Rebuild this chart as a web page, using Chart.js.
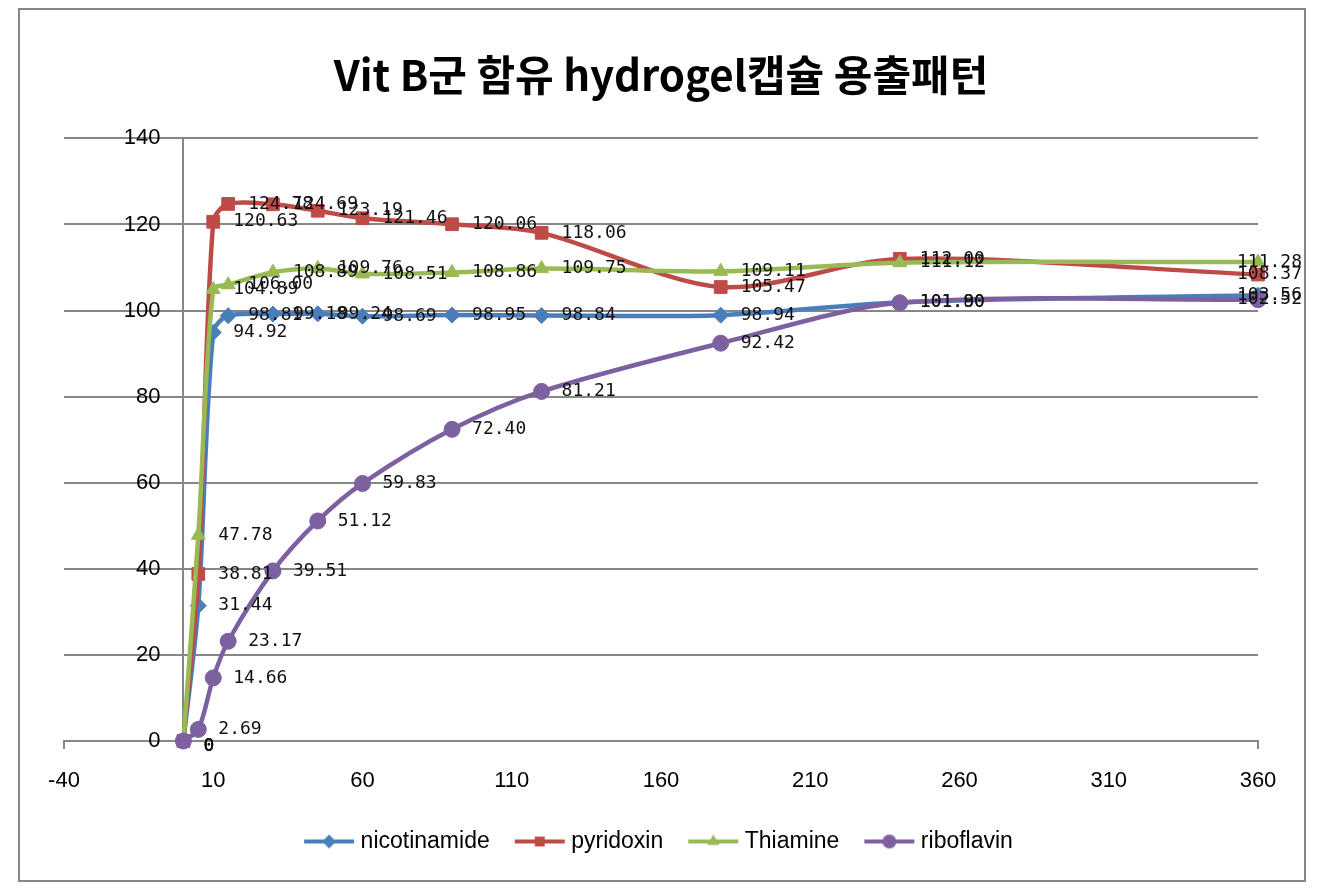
<!DOCTYPE html>
<html>
<head>
<meta charset="utf-8">
<script src="https://cdn.jsdelivr.net/npm/chart.js@4.4.1/dist/chart.umd.min.js"></script>
<style>
  html, body { margin: 0; padding: 0; background: #fff; overflow: hidden; }
</style>
</head>
<body>
<canvas id="releaseChart" width="1332" height="890"></canvas>
<script>
// Sampling times (min)
const times = [0, 5, 10, 15, 30, 45, 60, 90, 120, 180, 240, 360];

// Released amount (%)
const nicotinamide = [0, 31.44, 94.92, 98.81, 99.18, 99.24, 98.69, 98.95, 98.84, 98.94, 101.90, 103.56];
const pyridoxin = [0, 38.81, 120.63, 124.78, 124.69, 123.19, 121.46, 120.06, 118.06, 105.47, 112.00, 108.37];
const thiamine = [0, 47.78, 104.89, 106.00, 108.89, 109.76, 108.51, 108.86, 109.75, 109.11, 111.12, 111.28];
const riboflavin = [0, 2.69, 14.66, 23.17, 39.51, 51.12, 59.83, 72.40, 81.21, 92.42, 101.80, 102.52];

const xTicks = [-40, 10, 60, 110, 160, 210, 260, 310, 360];
const seriesNames = ['nicotinamide', 'pyridoxin', 'Thiamine', 'riboflavin'];
const titleText = 'Vit B군 함유 hydrogel캡슐 용출패턴';

const GRAY = '#878787';
const series = [
    { values: nicotinamide, color: '#4a7ebb', marker: 'rectRot', radius: 8 },
    { values: pyridoxin, color: '#be4b48', marker: 'rect', radius: 9 },
    { values: thiamine, color: '#98b954', marker: 'triangle', radius: 8 },
    { values: riboflavin, color: '#7d60a0', marker: 'circle', radius: 8 },
];

// legend swatch: short line with the marker in the middle
function legendIcon(color, marker) {
    const c = document.createElement('canvas');
    c.width = 52;
    c.height = 16;
    const g = c.getContext('2d');
    g.strokeStyle = color;
    g.fillStyle = color;
    g.lineWidth = 4;
    g.beginPath();
    g.moveTo(1, 8);
    g.lineTo(51, 8);
    g.stroke();
    Chart.helpers.drawPoint(g, { pointStyle: marker, radius: 7, borderWidth: 0, rotation: 0 }, 26, 8);
    return c;
}

// value labels to the right of each point
const valueLabels = {
    id: 'valueLabels',
    afterDatasetsDraw(chart) {
        const ctx = chart.ctx;
        ctx.save();
        ctx.font = '18px "DejaVu Sans Mono", monospace';
        ctx.fillStyle = '#111';
        ctx.textBaseline = 'middle';
        ctx.textAlign = 'left';
        chart.data.datasets.forEach((ds, i) => {
            chart.getDatasetMeta(i).data.forEach((pt, j) => {
                const v = ds.data[j].y;
                const txt = v === 0 ? '0' : v.toFixed(2);
                const w = ctx.measureText(txt).width;
                const x = Math.min(pt.x + 20, 1302 - w);
                ctx.fillText(txt, x, pt.y + (v === 0 ? 5 : 0));
            });
        });
        ctx.restore();
    },
};

// outer frame
const frame = {
    id: 'frame',
    beforeDraw(chart) {
        const ctx = chart.ctx;
        ctx.save();
        ctx.fillStyle = '#fff';
        ctx.fillRect(0, 0, chart.width, chart.height);
        ctx.strokeStyle = GRAY;
        ctx.lineWidth = 2;
        ctx.strokeRect(19, 9, 1286, 872);
        ctx.restore();
    },
};

const tickFont = { family: '"Liberation Sans", sans-serif', size: 22 };

const ctx = document.getElementById('releaseChart').getContext('2d');
new Chart(ctx, {
    type: 'line',
    data: {
        datasets: series.map((s, i) => ({
            label: seriesNames[i],
            data: times.map((t, j) => ({ x: t, y: s.values[j] })),
            borderColor: s.color,
            backgroundColor: s.color,
            pointStyle: s.marker,
            pointRadius: s.radius,
            pointBorderWidth: 1,
            borderWidth: 4.5,
            tension: 0.3,
            clip: false,
            order: series.length - i,
        })),
    },
    options: {
        responsive: false,
        animation: false,
        events: [],
        layout: { padding: { left: 64, right: 74, top: 0, bottom: 27 } },
        plugins: {
            title: {
                display: true,
                text: titleText,
                color: '#000',
                font: { family: '"Noto Sans CJK KR", sans-serif', size: 42, weight: 'bold' },
                padding: { top: 50, bottom: 38 },
            },
            legend: {
                position: 'bottom',
                labels: {
                    usePointStyle: true,
                    pointStyleWidth: 40,
                    padding: 30,
                    color: '#000',
                    font: { family: '"Liberation Sans", sans-serif', size: 23 },
                    generateLabels: (chart) => chart.data.datasets.map((ds, i) => ({
                        text: ds.label,
                        pointStyle: legendIcon(series[i].color, series[i].marker),
                        fillStyle: series[i].color,
                        strokeStyle: series[i].color,
                        lineWidth: 0,
                        fontColor: '#000',
                        hidden: false,
                        datasetIndex: i,
                    })),
                },
            },
            tooltip: { enabled: false },
        },
        scales: {
            x: {
                type: 'linear',
                min: -40,
                max: 360,
                afterBuildTicks: (scale) => { scale.ticks = xTicks.map((v) => ({ value: v })); },
                afterFit: (scale) => { scale.height = 59; },
                grid: {
                    drawOnChartArea: false,
                    tickLength: 8,
                    lineWidth: 2,
                    color: (c) => (c.index === 0 || c.index === xTicks.length - 1 ? GRAY : 'rgba(0,0,0,0)'),
                },
                border: { color: GRAY, width: 2 },
                ticks: { padding: 19, color: '#000', maxRotation: 0, font: tickFont },
            },
            // tick labels sit a little left of the vertical axis line
            y: {
                type: 'linear',
                min: 0,
                max: 140,
                position: { x: -7.7 },
                grid: { color: GRAY, lineWidth: 2, drawTicks: false },
                border: { display: false },
                ticks: { stepSize: 20, color: '#000', font: tickFont },
            },
            // vertical axis line crossing at x = 0
            yLine: {
                type: 'linear',
                axis: 'y',
                min: 0,
                max: 140,
                position: { x: 0 },
                grid: { display: false, drawOnChartArea: false, drawTicks: false },
                border: { display: true, color: GRAY, width: 2 },
                ticks: { display: false },
            },
        },
    },
    plugins: [frame, valueLabels],
});
</script>
</body>
</html>
